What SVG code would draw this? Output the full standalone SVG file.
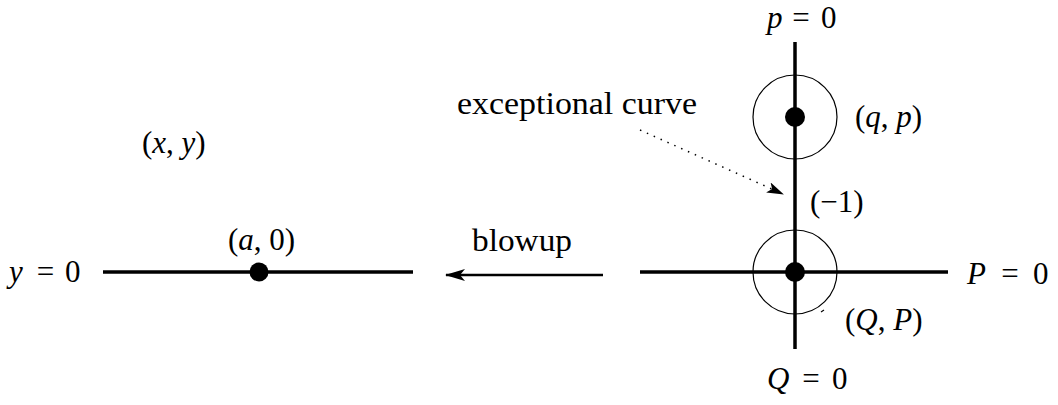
<svg xmlns="http://www.w3.org/2000/svg" width="1058" height="405" viewBox="0 0 1058 405">
<style>
text{font-family:"Liberation Serif","DejaVu Serif",serif;font-size:31px;fill:#000}
.i{font-style:italic}
.m{text-anchor:middle}
.thick{stroke:#000;stroke-width:3.5;fill:none}
.thin{stroke:#000;stroke-width:1.2;fill:none}
</style>
<defs>
<marker id="ah" viewBox="0 0 20 12" refX="19" refY="6" markerWidth="20" markerHeight="12" markerUnits="userSpaceOnUse" orient="auto">
<path d="M0,0 L20,6 L0,12 L5,6 Z" fill="#000"/>
</marker>
<marker id="ah2" viewBox="0 0 17 11" refX="16" refY="5.5" markerWidth="17" markerHeight="11" markerUnits="userSpaceOnUse" orient="auto">
<path d="M0,0 L17,5.5 L0,11 L4,5.5 Z" fill="#000"/>
</marker>
</defs>
<rect width="1058" height="405" fill="#fff"/>
<g id="left-line">
<line class="thick" x1="103" y1="272" x2="413" y2="272"/>
<circle cx="259" cy="272" r="9.5" fill="#000"/>
<text x="9" y="282" class="i">y</text><text x="45.5" y="282" class="m">=</text><text x="65" y="282">0</text>
<text x="228" y="250">(<tspan class="i">a</tspan>, 0)</text>
<text x="142" y="153">(<tspan class="i">x</tspan>, <tspan class="i">y</tspan>)</text>
</g>
<g id="right-figure">
<line class="thick" x1="640" y1="272" x2="948" y2="272"/>
<line class="thick" x1="795" y1="42" x2="795" y2="349"/>
<circle class="thin" cx="795" cy="117" r="42"/>
<circle class="thin" cx="795" cy="272" r="42"/>
<circle cx="795" cy="117" r="10" fill="#000"/>
<circle cx="795" cy="272" r="10" fill="#000"/>
<path class="thin" d="M821,312 L824,310"/>
<text x="767" y="28" class="i">p</text><text x="801" y="28" class="m">=</text><text x="821" y="28">0</text>
<text x="767" y="389" class="i">Q</text><text x="811" y="389" class="m">=</text><text x="832" y="389">0</text>
<text x="967" y="284" class="i">P</text><text x="1010" y="284" class="m">=</text><text x="1033" y="284">0</text>
<text x="855" y="127">(<tspan class="i">q</tspan>, <tspan class="i">p</tspan>)</text>
<text x="810" y="212">(−1)</text>
<text x="845" y="330">(<tspan class="i">Q</tspan>, <tspan class="i">P</tspan>)</text>
<text x="457" y="114" textLength="240" lengthAdjust="spacingAndGlyphs">exceptional curve</text>
</g>
<g id="connectors">
<line x1="603" y1="275" x2="446" y2="275" stroke="#000" stroke-width="2.5" marker-end="url(#ah)"/>
<text x="472" y="251" textLength="100" lengthAdjust="spacingAndGlyphs">blowup</text>
<line x1="640" y1="130" x2="783" y2="194" stroke="#000" stroke-width="1.5" stroke-dasharray="1.5,6" marker-end="url(#ah2)"/>
</g>
</svg>
